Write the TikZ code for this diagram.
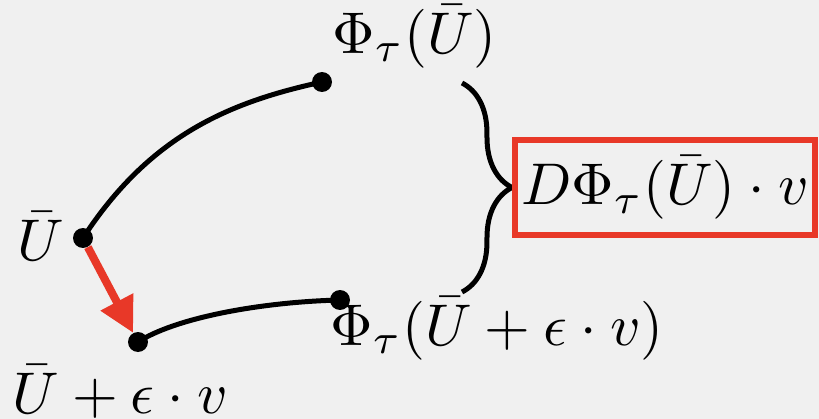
\documentclass[tikz,border=0pt]{standalone}
\usepackage{graphicx}
\usepackage{xcolor}
\usepackage{tikz}
\usetikzlibrary{arrows.meta,decorations.pathreplacing}

\definecolor{paper}{RGB}{240,240,240}
\definecolor{slidered}{RGB}{232,56,40}
\newcommand{\slidemath}[1]{\scalebox{3.35}{$#1$}}

\tikzset{
  dot/.style={circle, fill=black, inner sep=0pt, minimum size=0.4cm},
  flow/.style={line width=0.1cm, line cap=round},
  lab/.style={inner sep=0pt, anchor=base west},
}

\begin{document}
\begin{tikzpicture}[x=0.02cm, y=-0.02cm, >=Latex]
% background
\fill[paper] (0,0) rectangle (819,419);
% start points and flowed points
\node[dot] (u) at (83,238) {};
\node[dot] (phiu) at (322,82) {};
\node[dot] (ue) at (138,342) {};
\node[dot] (phiue) at (340,300) {};
\draw[flow] (u.center) .. controls (150,135) and (230,102) .. (phiu.center);
\draw[flow] (ue.center) .. controls (175,318) and (260,302) .. (phiue.center);
\draw[slidered, line width=0.16cm, -{Triangle[length=0.7cm,width=0.7cm]}] (u) -- (ue);
% labels
\node[lab] (ulab) at (17,260) {\slidemath{\bar U}};
\node[lab] (uelab) at (12,413) {\slidemath{\bar U+\epsilon\cdot v}};
\node[lab] (phiulab) at (332,53) {\slidemath{\Phi_\tau(\bar U)}};
\node[lab] (phiuelab) at (330,345) {\slidemath{\Phi_\tau(\bar U+\epsilon\cdot v)}};
% difference quotient
\coordinate (btop) at (462,83);
\coordinate (bbot) at (462,292);
\draw[line width=0.1cm, decorate, decoration={brace, amplitude=1cm}] (btop) -- (bbot);
\node[draw=slidered, line width=0.12cm, minimum width=6cm, minimum height=1.9cm, inner sep=0pt] (dphi) at (665,187.5) {\slidemath{D\Phi_\tau(\bar U)\cdot v}};
\end{tikzpicture}
\end{document}
